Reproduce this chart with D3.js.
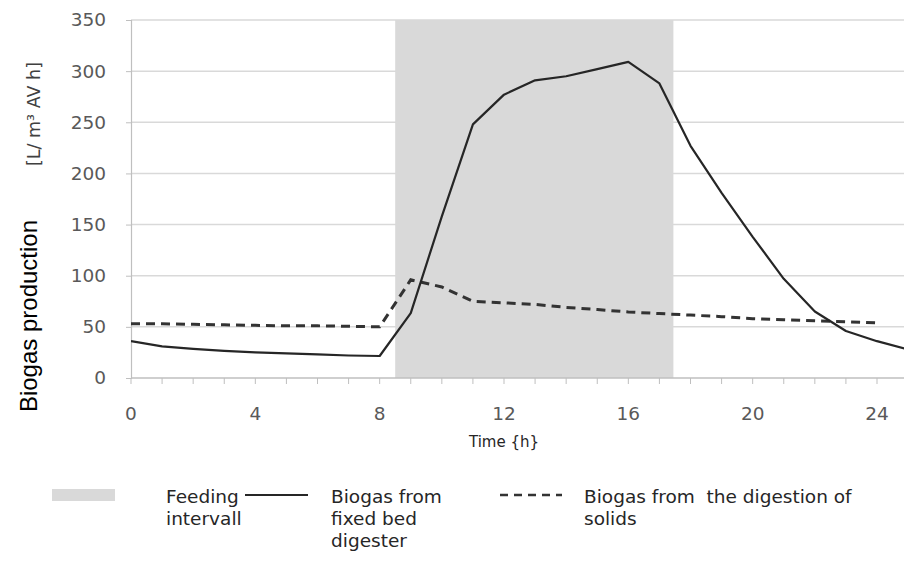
<!DOCTYPE html>
<html>
<head>
<meta charset="utf-8">
<script src="https://cdn.jsdelivr.net/npm/d3@7"></script>
<style>
  body { margin: 0; background: #fff; }
  text { font-family: "DejaVu Sans", sans-serif; }
</style>
</head>
<body>
<div id="chart"></div>
<script>
// hours (fixed bed has one extra point past the right edge)
const hours = [0, 1, 2, 3, 4, 5, 6, 7, 8, 9, 10, 11, 12, 13, 14, 15, 16, 17, 18, 19, 20, 21, 22, 23, 24, 25];
const fixedBed = [36, 31, 28.5, 26.5, 25, 24, 23, 22, 21.5, 63.5, 158, 248, 277, 291, 295, 302, 309, 288, 227, 181, 138, 97, 65, 46, 36, 28];
const solids = [53, 53, 52.5, 52, 51.5, 51, 51, 50.5, 50, 96, 89, 75, 73.5, 72, 69, 67, 64.5, 63, 61.5, 60, 58, 57, 56, 55, 54];
const feeding = [8.5, 17.45];
const yTicks = [0, 50, 100, 150, 200, 250, 300, 350];
const xTickLabels = [0, 4, 8, 12, 16, 20, 24];
const xMinorTicks = d3.range(0, 26);

const W = 904, H = 587;
const margin = { top: 20, left: 131, right: 904, bottom: 378 };

const svg = d3.select("#chart").append("svg")
    .attr("width", W)
    .attr("height", H);

// SCALES
const x = d3.scaleLinear().domain([0, 24]).range([131, 877]);
const y = d3.scaleLinear().domain([0, 350]).range([378, 20]);

svg.append("clipPath").attr("id", "plotclip")
    .append("rect")
    .attr("x", margin.left).attr("y", 0)
    .attr("width", margin.right - margin.left).attr("height", margin.bottom + 2);

// gridlines
svg.append("g").selectAll("line").data(yTicks.filter(d => d > 0)).join("line")
    .attr("x1", margin.left).attr("x2", margin.right)
    .attr("y1", d => y(d)).attr("y2", d => y(d))
    .attr("stroke", "#d9d9d9").attr("stroke-width", 1.5);

// feeding interval band
svg.append("rect")
    .attr("x", x(feeding[0]))
    .attr("y", y(350))
    .attr("width", x(feeding[1]) - x(feeding[0]))
    .attr("height", y(0) - y(350))
    .attr("fill", "#d9d9d9");

// AXES
const yAxis = svg.append("g")
    .attr("transform", "translate(" + margin.left + ",0)")
    .call(d3.axisLeft(y).tickValues(yTicks).tickSize(5).tickPadding(20));
yAxis.select(".domain").attr("stroke", "#bfbfbf").attr("stroke-width", 1.2);
yAxis.selectAll(".tick line").attr("stroke", "#bfbfbf");
yAxis.selectAll(".tick text")
    .attr("fill", "#595959")
    .style("font-family", "'DejaVu Sans', sans-serif")
    .style("font-size", "18.5px");

const xAxis = svg.append("g")
    .attr("transform", "translate(0," + y(0) + ")");
xAxis.append("line")
    .attr("x1", margin.left).attr("x2", margin.right)
    .attr("stroke", "#bfbfbf").attr("stroke-width", 1.5);
xAxis.selectAll(".minor").data(xMinorTicks).join("line")
    .attr("class", "minor")
    .attr("x1", d => x(d)).attr("x2", d => x(d))
    .attr("y1", 0).attr("y2", 6)
    .attr("stroke", "#bfbfbf");
xAxis.selectAll(".lbl").data(xTickLabels).join("text")
    .attr("class", "lbl")
    .attr("x", d => x(d)).attr("y", 42)
    .attr("text-anchor", "middle")
    .attr("fill", "#595959").style("font-size", "18.5px")
    .text(d => d);

// LINES
const line = d3.line()
    .x((d, i) => x(hours[i]))
    .y(d => y(d));

const plot = svg.append("g").attr("clip-path", "url(#plotclip)");
plot.append("path")
    .attr("d", line(solids))
    .attr("fill", "none")
    .attr("stroke", "#333")
    .attr("stroke-width", 3)
    .attr("stroke-dasharray", "9,6");
plot.append("path")
    .attr("d", line(fixedBed))
    .attr("fill", "none")
    .attr("stroke", "#262626")
    .attr("stroke-width", 2.2)
    .attr("stroke-linejoin", "round");

// axis titles
svg.append("text")
    .attr("transform", "translate(37,316) rotate(-90)")
    .attr("text-anchor", "middle")
    .style("font-family", "'Liberation Sans', Arial, sans-serif")
    .style("font-size", "24px")
    .attr("fill", "#000")
    .text("Biogas production");
svg.append("text")
    .attr("transform", "translate(40,114) rotate(-90)")
    .attr("text-anchor", "middle")
    .style("font-size", "17.5px")
    .attr("fill", "#404040")
    .text("[L/ m³ AV h]");

svg.append("text")
    .attr("x", 504).attr("y", 447)
    .attr("text-anchor", "middle")
    .style("font-size", "15px")
    .attr("fill", "#262626")
    .text("Time {h}");

// legend
const legend = svg.append("g").style("font-size", "18.5px").attr("fill", "#262626");
legend.append("rect")
    .attr("x", 52).attr("y", 489).attr("width", 63).attr("height", 12)
    .attr("fill", "#d9d9d9");
legend.append("line")
    .attr("x1", 245).attr("x2", 308).attr("y1", 495).attr("y2", 495)
    .attr("stroke", "#262626").attr("stroke-width", 2.2);
legend.append("line")
    .attr("x1", 500).attr("x2", 562).attr("y1", 495).attr("y2", 495)
    .attr("stroke", "#333").attr("stroke-width", 2.5).attr("stroke-dasharray", "8,6");

const legendText = [
    { x: 166, lines: ["Feeding", "intervall"] },
    { x: 331, lines: ["Biogas from", "fixed bed", "digester"] },
    { x: 584, lines: ["Biogas from\u00a0 the digestion of", "solids"] }
];
legendText.forEach(t => {
    t.lines.forEach((s, i) => {
        legend.append("text")
            .attr("x", t.x).attr("y", 503 + i * 22)
            .text(s);
    });
});
</script>
</body>
</html>
